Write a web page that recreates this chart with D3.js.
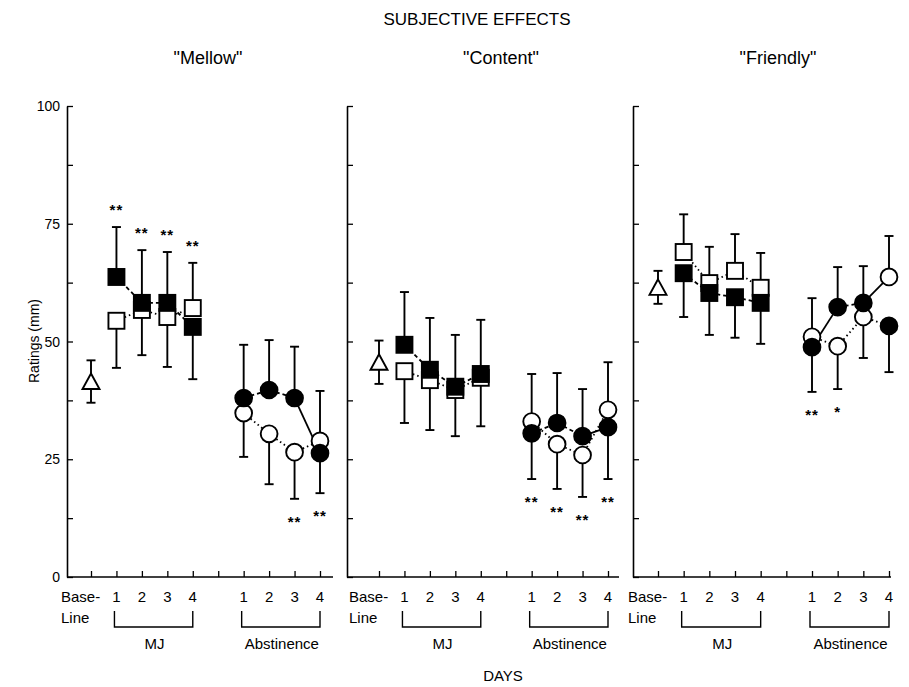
<!DOCTYPE html>
<html>
<head>
<meta charset="utf-8">
<script src="https://cdn.jsdelivr.net/npm/d3@7"></script>
<style>
  body { margin: 0; background: #fff; }
  svg { display: block; font-family: "Liberation Sans", Arial, Helvetica, sans-serif; }
</style>
</head>
<body>
<div id="chart"></div>
<script>
// ---- data (ratings in mm) ----
const panelTitles = ['"Mellow"', '"Content"', '"Friendly"'];
const dayLabels = ['', '1', '2', '3', '4', '', '1', '2', '3', '4'];
const yTicks = [0, 12.5, 25, 37.5, 50, 62.5, 75, 87.5, 100];
const yLabels = [0, 25, 50, 75, 100];
const baseMean = [41.5, 45.6, 61.5];
const baseSE = [4.5, 4.6, 3.5];

// index 0 = baseline slot, 1-4 = MJ days, 5 = gap, 6-9 = abstinence days
const mellowFilled   = [null, 63.7, 58.2, 58.2, 53.1, null, 38.0, 39.7, 38.0, 26.3];
const mellowFilledSE = [null, 10.6, 11.2, 10.8, 11.1, null, 11.3, 10.6, 10.9, 8.5];
const mellowOpen     = [null, 54.4, 56.7, 55.2, 57.1, null, 34.8, 30.4, 26.5, 28.9];
const mellowOpenSE   = [null, 10.0, 9.6, 10.6, 9.6, null, 9.3, 10.7, 9.9, 10.6];
const mellowStars    = [null, '**', '**', '**', '**', null, null, null, '**', '**'];

const contentFilled   = [null, 49.3, 44.0, 40.4, 43.1, null, 30.5, 32.7, 29.9, 31.8];
const contentFilledSE = [null, 11.2, 11.0, 11.0, 11.5, null, 9.7, 10.6, 10.0, 11.0];
const contentOpen     = [null, 43.7, 41.8, 39.7, 42.3, null, 33.0, 28.2, 25.9, 35.5];
const contentOpenSE   = [null, 11.0, 10.6, 9.8, 10.3, null, 10.1, 9.5, 8.9, 10.1];
const contentStars    = [null, null, null, null, null, null, '**', '**', '**', '**'];

const friendlyFilled   = [null, 64.5, 60.3, 59.4, 58.2, null, 48.8, 57.3, 58.2, 53.3];
const friendlyFilledSE = [null, 9.3, 8.9, 8.6, 8.7, null, 9.5, 8.5, 7.8, 9.8];
const friendlyOpen     = [null, 69.0, 62.4, 65.0, 61.4, null, 51.0, 49.0, 55.2, 63.7];
const friendlyOpenSE   = [null, 8.0, 7.7, 7.8, 7.4, null, 8.2, 9.1, 8.7, 8.7];
const friendlyStars    = [null, null, null, null, null, null, '**', '*', null, null];

// connecting segments that differ from the default (f = filled, o = open)
const mellowLinks   = [['f', 8, 'f', 9, 'solid']];
const contentLinks  = [['f', 8, 'f', 9, 'solid']];
const friendlyLinks = [['f', 6, 'f', 7, 'solid'], ['f', 8, 'o', 9, 'solid'], ['o', 8, 'f', 9, 'dot']];

// ---- layout ----
const W = 909, H = 687;
const yTop = 106, yBottom = 577;
const panels = [
  { left: 67,  x0: 91,  x9: 320, right: 333, titleX: 208, filled: mellowFilled, filledSE: mellowFilledSE, open: mellowOpen, openSE: mellowOpenSE, stars: mellowStars, links: mellowLinks },
  { left: 347, x0: 379, x9: 608, right: 619, titleX: 501, filled: contentFilled, filledSE: contentFilledSE, open: contentOpen, openSE: contentOpenSE, stars: contentStars, links: contentLinks },
  { left: 633, x0: 658, x9: 889, right: 891, titleX: 778, filled: friendlyFilled, filledSE: friendlyFilledSE, open: friendlyOpen, openSE: friendlyOpenSE, stars: friendlyStars, links: friendlyLinks }
];
const dashes = { solid: null, dash: '4,3', dot: '1.5,3' };

const svg = d3.select('#chart').append('svg')
  .attr('width', W)
  .attr('height', H);

const y = d3.scaleLinear().domain([0, 100]).range([yBottom, yTop]);

svg.append('text')
  .attr('x', 477).attr('y', 25)
  .attr('text-anchor', 'middle')
  .style('font-size', '17px')
  .text('SUBJECTIVE EFFECTS');

svg.append('text')
  .attr('x', 503).attr('y', 681)
  .attr('text-anchor', 'middle')
  .style('font-size', '15px')
  .text('DAYS');

svg.append('text')
  .attr('transform', 'translate(39,341) rotate(-90)')
  .attr('text-anchor', 'middle')
  .style('font-size', '14px')
  .text('Ratings (mm)');

// y labels on the first panel only
svg.append('g').selectAll('text')
  .data(yLabels)
  .join('text')
  .attr('x', 60)
  .attr('y', d => y(d) + 5)
  .attr('text-anchor', 'end')
  .style('font-size', '14px')
  .text(d => d);

panels.forEach((p, pi) => {
  const g = svg.append('g');
  const x = d3.scaleLinear().domain([0, 9]).range([p.x0, p.x9]);

  g.append('text')
    .attr('x', p.titleX).attr('y', 64)
    .attr('text-anchor', 'middle')
    .style('font-size', '18px')
    .text(panelTitles[pi]);

  // y axis: inward ticks, no labels
  const yAxis = g.append('g')
    .attr('transform', `translate(${p.left},0)`)
    .call(d3.axisRight(y).tickValues(yTicks).tickSize(6).tickSizeOuter(0).tickFormat(''));
  yAxis.select('.domain').attr('stroke-width', 1.6);
  yAxis.selectAll('.tick line').attr('stroke-width', 1.3);

  // x axis: baseline line with upward ticks
  g.append('line')
    .attr('x1', p.left).attr('x2', p.right)
    .attr('y1', yBottom).attr('y2', yBottom)
    .attr('stroke', '#000').attr('stroke-width', 1.6);
  const xAxis = g.append('g')
    .attr('transform', `translate(0,${yBottom})`)
    .call(d3.axisTop(x).tickValues(d3.range(10)).tickSize(6).tickSizeOuter(0).tickFormat(''));
  xAxis.select('.domain').remove();
  xAxis.selectAll('.tick line').attr('stroke-width', 1.3);

  // day labels
  g.append('g').selectAll('text')
    .data(dayLabels.map((t, i) => ({ t, i })).filter(d => d.t !== ''))
    .join('text')
    .attr('x', d => x(d.i))
    .attr('y', 602)
    .attr('text-anchor', 'middle')
    .style('font-size', '15px')
    .text(d => d.t);
  g.append('text').attr('x', x(0) - 30).attr('y', 602).style('font-size', '15px').text('Base-');
  g.append('text').attr('x', x(0) - 30).attr('y', 623).style('font-size', '15px').text('Line');

  // brackets under MJ and Abstinence days
  [[1, 4, 'MJ'], [6, 9, 'Abstinence']].forEach(([a, b, label]) => {
    g.append('path')
      .attr('d', `M${x(a) - 2},611 V627 H${x(b)} V611`)
      .attr('fill', 'none').attr('stroke', '#000').attr('stroke-width', 1.4);
    g.append('text')
      .attr('x', (x(a) + x(b)) / 2).attr('y', 649)
      .attr('text-anchor', 'middle')
      .style('font-size', '15px')
      .text(label);
  });

  const series = { f: p.filled, o: p.open };
  const valid = i => p.filled[i] != null;

  // connecting lines
  const linkList = [];
  ['f', 'o'].forEach(s => {
    for (let i = 1; i < 9; i++) {
      if (!valid(i) || !valid(i + 1)) continue;
      const over = p.links.find(l => l[0] === s && l[1] === i);
      if (over) linkList.push(over);
      else linkList.push([s, i, s, i + 1, s === 'f' ? 'dash' : 'dot']);
    }
  });
  g.append('g').selectAll('line')
    .data(linkList)
    .join('line')
    .attr('x1', d => x(d[1])).attr('y1', d => y(series[d[0]][d[1]]))
    .attr('x2', d => x(d[3])).attr('y2', d => y(series[d[2]][d[3]]))
    .attr('stroke', '#000')
    .attr('stroke-width', 1.8)
    .attr('stroke-dasharray', d => dashes[d[4]]);

  // error bars: the higher mean gets the upward bar, the lower one the downward bar
  const bars = [];
  for (let i = 1; i < 10; i++) {
    if (!valid(i)) continue;
    const fUp = p.filled[i] >= p.open[i];
    bars.push({ i, from: p.filled[i], to: p.filled[i] + (fUp ? 1 : -1) * p.filledSE[i] });
    bars.push({ i, from: p.open[i], to: p.open[i] + (fUp ? -1 : 1) * p.openSE[i] });
  }
  bars.push({ i: 0, from: baseMean[pi], to: baseMean[pi] + baseSE[pi] });
  bars.push({ i: 0, from: baseMean[pi], to: baseMean[pi] - baseSE[pi] });
  const bg = g.append('g').attr('stroke', '#000').attr('stroke-width', 1.9);
  bg.selectAll('line.stem')
    .data(bars)
    .join('line').attr('class', 'stem')
    .attr('x1', d => x(d.i)).attr('x2', d => x(d.i))
    .attr('y1', d => y(d.from)).attr('y2', d => y(d.to));
  bg.selectAll('line.cap')
    .data(bars)
    .join('line').attr('class', 'cap')
    .attr('x1', d => x(d.i) - 4.5).attr('x2', d => x(d.i) + 4.5)
    .attr('y1', d => y(d.to)).attr('y2', d => y(d.to));

  // baseline triangle
  g.append('path')
    .attr('d', 'M0,-8 L8.5,7.5 L-8.5,7.5 Z')
    .attr('transform', `translate(${x(0)},${y(baseMean[pi])})`)
    .attr('fill', '#fff').attr('stroke', '#000').attr('stroke-width', 1.9);

  // markers: open first, filled on top; squares for MJ, circles for abstinence
  ['o', 'f'].forEach(s => {
    const pts = series[s].map((v, i) => ({ v, i })).filter(d => d.v != null);
    const fill = s === 'f' ? '#000' : '#fff';
    g.append('g').selectAll('rect')
      .data(pts.filter(d => d.i < 5))
      .join('rect')
      .attr('x', d => x(d.i) - 8).attr('y', d => y(d.v) - 8)
      .attr('width', 16).attr('height', 16)
      .attr('fill', fill).attr('stroke', '#000').attr('stroke-width', 1.9);
    g.append('g').selectAll('circle')
      .data(pts.filter(d => d.i > 5))
      .join('circle')
      .attr('cx', d => x(d.i)).attr('cy', d => y(d.v))
      .attr('r', 8.4)
      .attr('fill', fill).attr('stroke', '#000').attr('stroke-width', 1.9);
  });

  // significance stars
  const starData = [];
  p.stars.forEach((t, i) => {
    if (!t) return;
    const hi = Math.max(p.filled[i], p.open[i]);
    const above = hi > baseMean[pi];
    const end = above
      ? (p.filled[i] >= p.open[i] ? p.filled[i] + p.filledSE[i] : p.open[i] + p.openSE[i])
      : (p.filled[i] < p.open[i] ? p.filled[i] - p.filledSE[i] : p.open[i] - p.openSE[i]);
    starData.push({ i, t, cy: y(end) + (above ? -21 : 19) });
  });
  g.append('g').selectAll('text')
    .data(starData)
    .join('text')
    .attr('x', d => x(d.i))
    .attr('y', d => d.cy + 9)
    .attr('text-anchor', 'middle')
    .style('font-size', '15px')
    .style('font-weight', 'bold')
    .style('letter-spacing', '1px')
    .text(d => d.t);
});
</script>
</body>
</html>
